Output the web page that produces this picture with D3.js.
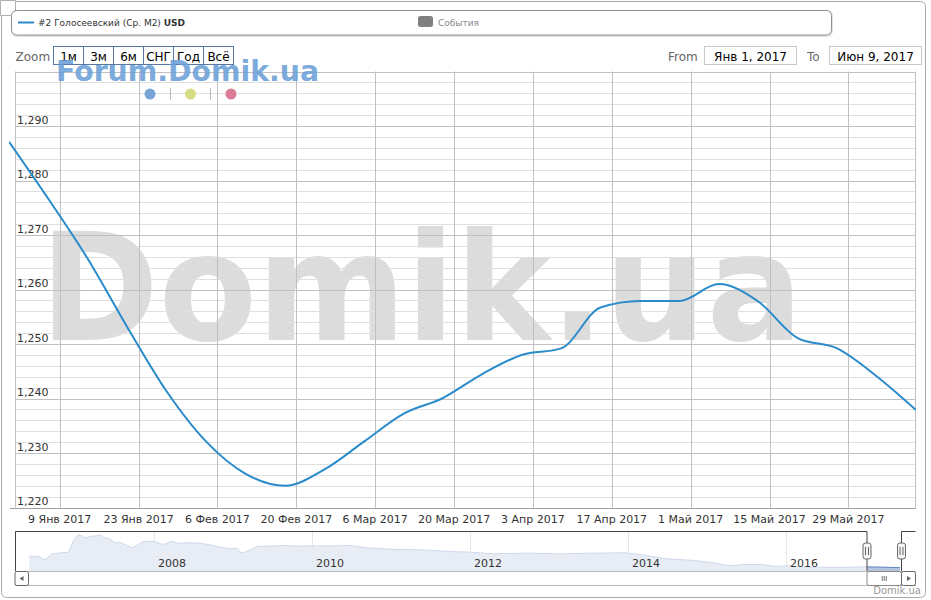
<!DOCTYPE html>
<html><head><meta charset="utf-8">
<script src="https://cdn.jsdelivr.net/npm/d3@7/dist/d3.min.js"></script>
<style>
html,body{margin:0;padding:0;background:#fff;}
svg{display:block;font-family:"DejaVu Sans",Verdana,sans-serif;}
</style></head>
<body><svg id="c" width="931" height="600"></svg>
<script>
// ---- main series (weekly, USD per m²) ----
const dates = ["2016-12-31","2017-01-07","2017-01-14","2017-01-21","2017-01-28","2017-02-04","2017-02-11","2017-02-18","2017-02-25","2017-03-04","2017-03-11","2017-03-18","2017-03-25","2017-04-01","2017-04-08","2017-04-15","2017-04-22","2017-04-29","2017-05-06","2017-05-13","2017-05-20","2017-05-27","2017-06-03","2017-06-10"];
const values = [1287.1,1276.6,1265.6,1253.1,1241.3,1232.1,1226.2,1224.0,1227.0,1232.1,1237.2,1240.1,1244.5,1248.0,1249.2,1256.7,1257.9,1257.9,1261.0,1257.8,1251.1,1249.2,1244.1,1237.9];
const seriesName = "#2 Голосеевский (Ср. М2) ";
const seriesUnit = "USD";
// ---- axis ticks ----
const xTickDates = ["2017-01-09","2017-01-23","2017-02-06","2017-02-20","2017-03-06","2017-03-20","2017-04-03","2017-04-17","2017-05-01","2017-05-15","2017-05-29"];
const xTickLabels = ["9 Янв 2017","23 Янв 2017","6 Фев 2017","20 Фев 2017","6 Мар 2017","20 Мар 2017","3 Апр 2017","17 Апр 2017","1 Май 2017","15 Май 2017","29 Май 2017"];
const yMajorTicks = [1220,1230,1240,1250,1260,1270,1280,1290,1300];
const yMinorStep = 2;
const zoomButtons = ["1м","3м","6м","СНГ","Год","Всё"];
const fromLabel = "Янв 1, 2017", toLabel = "Июн 9, 2017";
// ---- navigator series (fractional year, USD per m²) ----
const navYears = [2006.42,2006.54,2006.62,2006.71,2006.83,2006.92,2006.98,2007.04,2007.08,2007.13,2007.19,2007.27,2007.32,2007.36,2007.44,2007.51,2007.57,2007.63,2007.72,2007.78,2007.86,2007.99,2008.12,2008.22,2008.31,2008.46,2008.58,2008.71,2008.84,2008.96,2009.05,2009.09,2009.13,2009.22,2009.30,2009.43,2009.64,2009.85,2010.06,2010.27,2010.48,2010.69,2010.90,2011.11,2011.33,2011.54,2011.75,2012.0,2012.29,2012.72,2013.14,2013.56,2013.90,2013.98,2014.24,2014.49,2014.83,2015.08,2015.29,2015.46,2015.67,2015.88,2016.01,2016.30,2016.72,2017.0,2017.44];
const navValues = [1940,1920,1720,2090,2150,2190,2910,3260,3210,3070,3150,3200,3260,3110,3010,2740,2800,2660,2460,2600,2830,2860,2660,2860,2740,2770,2740,2640,2490,2400,2430,2190,2150,2340,2540,2560,2600,2560,2580,2580,2600,2460,2400,2350,2340,2290,2230,2190,2090,2130,2090,2130,2150,2150,1980,1780,1680,1540,1350,1430,1430,1310,1350,1270,1250,1287,1238];
const navYearTicks = [2008,2010,2012,2014,2016];

const svg = d3.select("#c");
const parse = d3.utcParse("%Y-%m-%d");
const pts = dates.map((d,i)=>({d:parse(d), v:values[i]}));

const plotL = 9, plotR = 916, plotT = 71.5, plotB = 507.6;
const x = d3.scaleUtc().domain([parse("2016-12-31"), parse("2017-06-10")]).range([plotL, plotR]);
const y = d3.scaleLinear().domain([1220,1300]).range([plotB, plotT]);

// outer border
svg.append("rect").attr("x",1.5).attr("y",1.5).attr("width",924).attr("height",596).attr("rx",5)
  .attr("fill","#fff").attr("stroke","#a8a8a8");

// big watermark
svg.append("text").attr("x",40).attr("y",340).attr("font-size",150).attr("font-weight","bold")
  .attr("textLength",763).attr("lengthAdjust","spacingAndGlyphs")
  .attr("fill","#dcdcdc").text("Domik.ua");

// gridlines
const g = svg.append("g");
const minorTicks = d3.range(1220,1300.1,yMinorStep).filter(v=>!yMajorTicks.includes(v));
g.selectAll(".ymin").data(minorTicks).join("line")
  .attr("x1",15).attr("x2",plotR).attr("y1",d=>Math.round(y(d))+0.5).attr("y2",d=>Math.round(y(d))+0.5)
  .attr("stroke","#e0e0e0");
g.selectAll(".ymaj").data(yMajorTicks).join("line")
  .attr("x1",15).attr("x2",plotR).attr("y1",d=>Math.round(y(d))+0.5).attr("y2",d=>Math.round(y(d))+0.5)
  .attr("stroke","#c0c0c0");
g.selectAll(".xg").data(xTickDates).join("line")
  .attr("x1",d=>Math.round(x(parse(d)))+0.5).attr("x2",d=>Math.round(x(parse(d)))+0.5)
  .attr("y1",plotT).attr("y2",plotB).attr("stroke","#c0c0c0");
// y axis line & right edge
g.append("line").attr("x1",15.5).attr("x2",15.5).attr("y1",plotT).attr("y2",plotB).attr("stroke","#c0c0c0");
g.append("line").attr("x1",915.5).attr("x2",915.5).attr("y1",plotT).attr("y2",plotB).attr("stroke","#c0c0c0");
// x axis line
g.append("line").attr("x1",10).attr("x2",916).attr("y1",508.5).attr("y2",508.5).attr("stroke","#a0a0a0");

// y labels
svg.selectAll(".yl").data(yMajorTicks.filter(v=>v<1300)).join("text")
  .attr("x",17).attr("y",d=>y(d)-2.5).attr("font-size",11).attr("fill","#333")
  .text(d=>d3.format(",")(d));
// x labels
svg.selectAll(".xl").data(xTickDates).join("text")
  .attr("x",d=>x(parse(d))).attr("y",523).attr("text-anchor","middle").attr("font-size",11).attr("fill","#333")
  .text((d,i)=>xTickLabels[i]);

// line
svg.append("clipPath").attr("id","clip").append("rect").attr("x",plotL).attr("y",plotT-5).attr("width",plotR-plotL).attr("height",plotB-plotT+10);
const line = d3.line().x(p=>x(p.d)).y(p=>y(p.v)).curve(d3.curveMonotoneX);
svg.append("path").datum(pts).attr("d",line).attr("fill","none").attr("stroke","#2a8bcb")
  .attr("stroke-width",2).attr("clip-path","url(#clip)");

// top-left small box
svg.append("path").attr("d","M0.5,0.5 H15.5 V12 Q15.5,15.5 12,15.5 H0.5 Z").attr("fill","#fff").attr("stroke","#b0b0b0");

// legend
svg.append("rect").attr("x",12).attr("y",11).attr("width",820).attr("height",25).attr("rx",5)
  .attr("fill","none").attr("stroke","rgba(0,0,0,0.12)").attr("stroke-width",2);
svg.append("rect").attr("x",11.5).attr("y",10.5).attr("width",820).attr("height",24.5).attr("rx",5)
  .attr("fill","#fff").attr("stroke","#909090");
svg.append("line").attr("x1",18).attr("x2",34).attr("y1",22.5).attr("y2",22.5).attr("stroke","#2a8bcb").attr("stroke-width",2);
const lt = svg.append("text").attr("x",38).attr("y",26).attr("font-size",9).attr("fill","#333");
lt.append("tspan").text(seriesName);
lt.append("tspan").attr("font-weight","bold").text(seriesUnit);
svg.append("rect").attr("x",418).attr("y",16).attr("width",15).attr("height",11).attr("rx",2.5).attr("fill","#808080");
svg.append("text").attr("x",438).attr("y",26).attr("font-size",9).attr("fill","#888").text("События");

// zoom buttons
svg.append("text").attr("x",15.5).attr("y",61).attr("font-size",12).attr("fill","#666").text("Zoom");
const bw = 30, bx0 = 53.5;
zoomButtons.forEach((b,i)=>{
  svg.append("rect").attr("x",bx0+i*bw).attr("y",46.5).attr("width",bw).attr("height",18)
    .attr("fill","#fff").attr("stroke","#5a78a6");
  svg.append("text").attr("x",bx0+i*bw+bw/2).attr("y",60.5).attr("text-anchor","middle")
    .attr("font-size",12).attr("fill","#000").text(b);
});
// from/to
svg.append("text").attr("x",668).attr("y",60.5).attr("font-size",12).attr("fill","#666").text("From");
svg.append("rect").attr("x",704.5).attr("y",46.5).attr("width",92).attr("height",18).attr("fill","#fff").attr("stroke","#c8c8c8");
svg.append("text").attr("x",750.5).attr("y",60.5).attr("text-anchor","middle").attr("font-size",12).attr("fill","#000").text(fromLabel);
svg.append("text").attr("x",807).attr("y",60.5).attr("font-size",12).attr("fill","#666").text("To");
svg.append("rect").attr("x",829.5).attr("y",46.5).attr("width",92).attr("height",18).attr("fill","#fff").attr("stroke","#c8c8c8");
svg.append("text").attr("x",875.5).attr("y",60.5).attr("text-anchor","middle").attr("font-size",12).attr("fill","#000").text(toLabel);

// Forum watermark
svg.append("text").attr("x",56).attr("y",81).attr("font-size",29).attr("font-weight","bold")
  .attr("textLength",263).attr("lengthAdjust","spacingAndGlyphs")
  .attr("fill","#6a9fd8").attr("fill-opacity",0.9).text("Forum.Domik.ua");
[["#78a5d6",150],["#d6dc86",190.5],["#dc7d98",231]].forEach(([c,cx])=>{
  svg.append("circle").attr("cx",cx).attr("cy",94).attr("r",5.5).attr("fill",c);
});
[170.5,210.5].forEach(sx=>svg.append("line").attr("x1",sx).attr("x2",sx).attr("y1",88).attr("y2",100).attr("stroke","#bbb"));

// ---- navigator ----
const navT = 531.5, navB = 571.5;
const yearToDate = t => { const yr=Math.floor(t); const s=Date.UTC(yr,0,1), e=Date.UTC(yr+1,0,1); return new Date(s+(t-yr)*(e-s)); };
const nx = d3.scaleUtc().domain([new Date(Date.UTC(2008,0,1)), new Date(Date.UTC(2016,0,1))]).range([154,786]);
const ny = d3.scaleLinear().domain([1000,3400]).range([navB, 532.5]);
const navPts = navYears.map((t,i)=>({d:yearToDate(t), v:navValues[i]}));
// nav grid
svg.selectAll(".ng").data(navYearTicks).join("line")
  .attr("x1",d=>Math.round(nx(new Date(Date.UTC(d,0,1))))+0.5).attr("x2",d=>Math.round(nx(new Date(Date.UTC(d,0,1))))+0.5)
  .attr("y1",navT).attr("y2",navB).attr("stroke","#e6e6e6");
const area = d3.area().x(p=>nx(p.d)).y0(navB).y1(p=>ny(p.v)).curve(d3.curveLinear);
const navLine = d3.line().x(p=>nx(p.d)).y(p=>ny(p.v));
svg.append("path").datum(navPts).attr("d",area).attr("fill","#e8ecf5");
svg.append("path").datum(navPts).attr("d",navLine).attr("fill","none").attr("stroke","#d0d9ea").attr("stroke-width",1);
const hL = 867, hR = 901.5;
svg.append("clipPath").attr("id","sel").append("rect").attr("x",hL).attr("y",navT).attr("width",hR-hL).attr("height",navB-navT);
svg.append("path").datum(navPts).attr("d",area).attr("fill","#b4c4e0").attr("clip-path","url(#sel)");
svg.append("path").datum(navPts).attr("d",navLine).attr("fill","none").attr("stroke","#6685c2").attr("clip-path","url(#sel)");
svg.selectAll(".ny").data(navYearTicks).join("text")
  .attr("x",d=>nx(new Date(Date.UTC(d,0,1)))+4).attr("y",567).attr("font-size",11).attr("fill","#333").text(d=>d);
// outline
svg.append("path").attr("d",`M15.5,${navB} V${navT} H${hL} V${navB} H${hR} V${navT} H915.5`)
  .attr("fill","none").attr("stroke","#444");
// handles
[hL,hR].forEach(hx=>{
  svg.append("rect").attr("x",hx-4).attr("y",543).attr("width",8).attr("height",16).attr("rx",2.5)
    .attr("fill","#f4f4f4").attr("stroke","#666");
  [hx-1.5,hx+1.5].forEach(lx=>svg.append("line").attr("x1",lx).attr("x2",lx).attr("y1",547).attr("y2",555).attr("stroke","#666"));
});
// scrollbar
const sT = 571.5, sB = 585.5;
svg.append("line").attr("x1",15).attr("x2",916).attr("y1",sT).attr("y2",sT).attr("stroke","#bbb");
svg.append("line").attr("x1",15).attr("x2",916).attr("y1",sB).attr("y2",sB).attr("stroke","#bbb");
svg.append("rect").attr("x",15).attr("y",sT).attr("width",13.5).attr("height",14).attr("rx",2).attr("fill","#fff").attr("stroke","#666");
svg.append("path").attr("d",`M23.5,${sT+4.5} L19.5,${sT+7} L23.5,${sT+9.5} Z`).attr("fill","#666");
svg.append("rect").attr("x",hL).attr("y",sT).attr("width",hR-hL).attr("height",14).attr("rx",2).attr("fill","#fff").attr("stroke","#888");
[-2,0,2].forEach(o=>svg.append("line").attr("x1",(hL+hR)/2+o).attr("x2",(hL+hR)/2+o).attr("y1",sT+4.5).attr("y2",sT+9.5).attr("stroke","#777"));
svg.append("rect").attr("x",hR).attr("y",sT).attr("width",14).attr("height",14).attr("rx",2).attr("fill","#fff").attr("stroke","#666");
svg.append("path").attr("d",`M${hR+5.5},${sT+4.5} L${hR+9.5},${sT+7} L${hR+5.5},${sT+9.5} Z`).attr("fill","#666");

// credit
svg.append("text").attr("x",921).attr("y",594).attr("text-anchor","end").attr("font-size",10).attr("fill","#999").text("Domik.ua");
</script></body></html>
